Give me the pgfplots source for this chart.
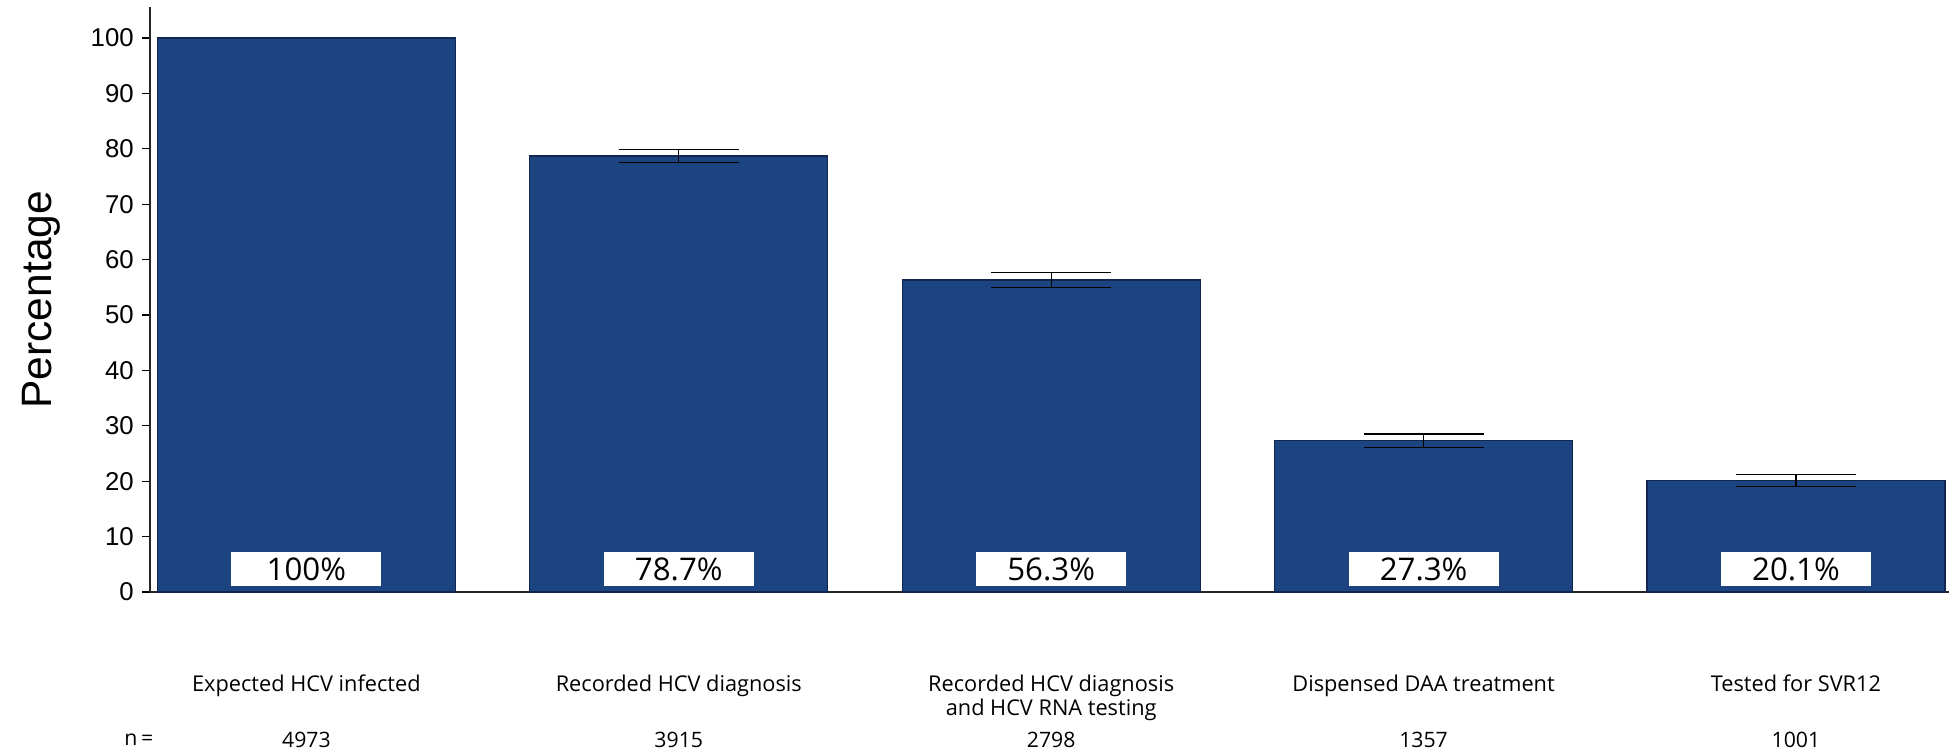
\documentclass[border=0pt]{standalone}
\usepackage{fontspec}
\setmainfont{Liberation Sans}
\newfontfamily\catfont{Open Sans}
\usepackage{pgfplots}
\pgfplotsset{compat=1.18}
\definecolor{barblue}{RGB}{27,68,128}
\definecolor{baredge}{RGB}{16,40,80}

\begin{document}
\begin{tikzpicture}
\begin{axis}[
  scale only axis, width=719.6pt, height=233.8pt,
  xmin=-0.42, xmax=4.411, ymin=0, ymax=105.5,
  axis lines*=left,
  axis line style={line width=0.6pt, black!85},
  clip=false,
  xtick={0,1,2,3,4},
  xticklabels={Expected HCV infected, Recorded HCV diagnosis, {Recorded HCV diagnosis\\and HCV RNA testing}, Dispensed DAA treatment, Tested for SVR12},
  x tick style={draw=none},
  x tick label style={font=\catfont\fontsize{8.7}{9.6}\selectfont, align=center, anchor=north, yshift=-26.5pt},
  ytick={0,10,...,100},
  tick align=outside, major tick length=3pt,
  y tick style={black, line width=0.5pt},
  y tick label style={font=\fontsize{10.3}{12}\selectfont},
  /pgf/number format/assume math mode=true,
  ylabel={Percentage},
  ylabel style={font=\fontsize{17}{20}\selectfont, at={(axis description cs:-0.0606,0.5)}, anchor=center},
]
% bar without error bar
\addplot[ybar, bar width=0.8, fill=barblue, draw=baredge, line width=0.5pt]
  table[x=x, y=y] {
x y
0 100
};
% bars with 95% CI
\addplot[ybar, bar width=0.8, fill=barblue, draw=baredge, line width=0.5pt,
  error bars/.cd, y dir=both, y explicit, error mark=|,
  error bar style={black, line width=0.5pt},
  error mark options={black, line width=0.5pt, mark size=24pt}]
  table[x=x, y=y, y error=e] {
x y e
1 78.7 1.14
2 56.3 1.38
3 27.3 1.24
4 20.1 1.11
};
% percentage boxes
\addplot[draw=none, mark=none, nodes near coords, point meta=explicit symbolic,
  nodes near coords style={anchor=center, fill=white, minimum width=60pt, minimum height=13.6pt, inner sep=0pt, font=\catfont\fontsize{12.5}{14}\selectfont, text=black}]
  table[x=x, y=y, meta=lab] {
x y lab
0 4.15 100\%
1 4.15 78.7\%
2 4.15 56.3\%
3 4.15 27.3\%
4 4.15 20.1\%
};
% n row
\addplot[draw=none, mark=none, nodes near coords, point meta=explicit symbolic,
  nodes near coords style={anchor=center, inner sep=0pt, font=\catfont\fontsize{8.5}{10}\selectfont, text=black}]
  table[x=x, y=y, meta=lab] {
x y lab
-0.45 -26.7 {n\,=}
0 -26.7 4973
1 -26.7 3915
2 -26.7 2798
3 -26.7 1357
4 -26.7 1001
};
\end{axis}
\pgfresetboundingbox
\path[use as bounding box] (current axis.south west) ++(-60pt,-63.6pt) rectangle ++(779.6pt,300.4pt);
\end{tikzpicture}
\end{document}
